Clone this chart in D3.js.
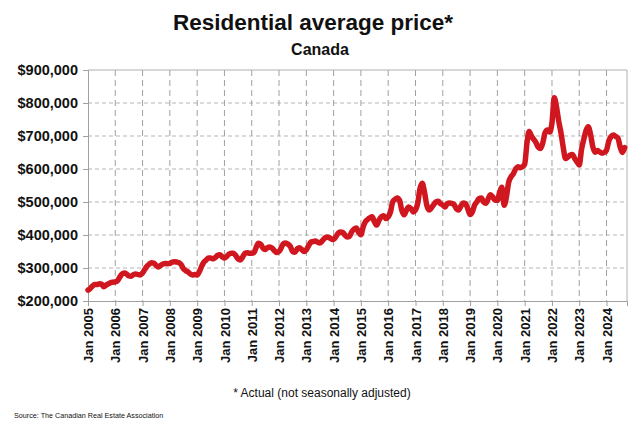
<!DOCTYPE html>
<html><head><meta charset="utf-8">
<script src="https://cdn.jsdelivr.net/npm/d3@7"></script>
<style>
html,body{margin:0;padding:0;background:#fff;}
svg{display:block;}
text{font-family:"Liberation Sans",Arial,sans-serif;fill:#111;}
</style></head>
<body><svg id="chart" width="640" height="432"></svg>
<script>
// Monthly average price (thousands of $), Jan 2005 .. Sep 2024
const startYear = 2005;
const prices2005 = [233,238,245,250,250,252,251,243,248,252,256,257];
const prices2006 = [258,262,272,282,285,282,276,275,280,282,280,279];
const prices2007 = [285,296,305,312,316,315,308,303,308,312,314,313];
const prices2008 = [314,318,319,318,316,310,298,292,288,282,279,280];
const prices2009 = [279,290,305,318,324,330,330,328,332,338,340,334];
const prices2010 = [330,335,342,345,345,338,328,324,333,344,346,345];
const prices2011 = [345,347,362,375,372,360,356,362,364,360,352,347];
const prices2012 = [350,362,374,376,372,365,350,348,358,361,356,350];
const prices2013 = [355,368,378,380,382,378,376,382,390,394,392,388];
const prices2014 = [386,395,405,409,408,400,394,396,410,418,421,408];
const prices2015 = [401,425,440,447,452,455,440,430,445,455,458,450];
const prices2016 = [455,470,500,508,512,505,475,461,475,485,480,470];
const prices2017 = [476,498,540,557,530,490,476,482,492,500,502,495];
const prices2018 = [491,485,495,497,496,492,480,476,488,497,495,480];
const prices2019 = [462,470,490,500,510,512,500,496,510,522,515,505];
const prices2020 = [505,530,545,490,515,560,576,585,600,607,604,607];
const prices2021 = [615,680,714,700,690,680,666,662,680,710,718,712];
const prices2022 = [740,816,790,745,710,665,632,636,642,644,632,622];
const prices2023 = [612,660,688,716,728,705,668,651,656,652,648,650];
const prices2024 = [657,685,698,703,699,694,667,650,665];
const yTicks = [200000,300000,400000,500000,600000,700000,800000,900000];
const xTickYears = d3.range(2005, 2025);

const allYears = [prices2005,prices2006,prices2007,prices2008,prices2009,prices2010,prices2011,prices2012,prices2013,prices2014,prices2015,prices2016,prices2017,prices2018,prices2019,prices2020,prices2021,prices2022,prices2023,prices2024];
const data = [];
allYears.forEach((arr, yi) => arr.forEach((v, m) => data.push({date: new Date(startYear + yi, m, 1), value: v * 1000})));

const svg = d3.select("#chart");
const L = 88, R = 627, T = 70, B = 301;
const x = d3.scaleTime().domain([new Date(2005,0,1), new Date(2024,9,1)]).range([L, R]);
const y = d3.scaleLinear().domain([200000, 900000]).range([B, T]);

// Titles
svg.append("text").attr("x", 313).attr("y", 30).attr("text-anchor","middle")
  .style("font-size","22.5px").style("font-weight","bold").text("Residential average price*");
svg.append("text").attr("x", 320).attr("y", 55).attr("text-anchor","middle")
  .style("font-size","16px").style("font-weight","bold").text("Canada");

// Grid
const grid = svg.append("g");
grid.selectAll("line.h").data(yTicks.filter(v => v > 200000 && v < 900000)).join("line")
  .attr("x1", L).attr("x2", R).attr("y1", d => y(d)).attr("y2", d => y(d))
  .attr("stroke", "#b5b5b5").attr("stroke-width", 1).attr("stroke-dasharray", "4,3");
grid.selectAll("line.v").data(xTickYears.slice(1)).join("line")
  .attr("x1", d => x(new Date(d,0,1))).attr("x2", d => x(new Date(d,0,1)))
  .attr("y1", T).attr("y2", B)
  .attr("stroke", "#a0a0a0").attr("stroke-width", 1).attr("stroke-dasharray", "6,4");

// Border (top/right)
svg.append("line").attr("x1", L).attr("x2", R).attr("y1", T).attr("y2", T).attr("stroke","#b0b0b0");
svg.append("line").attr("x1", R).attr("x2", R).attr("y1", T).attr("y2", B).attr("stroke","#b0b0b0");

// Y axis
const yAxis = d3.axisLeft(y).tickValues(yTicks).tickSize(5).tickPadding(5)
  .tickFormat(d => "$" + d3.format(",")(d));
const gy = svg.append("g").attr("transform", `translate(${L},0)`).call(yAxis);
gy.select(".domain").attr("stroke", "#a0a0a0");
gy.selectAll(".tick line").attr("stroke", "#a0a0a0");
gy.selectAll(".tick text").style("font-size","14.5px").style("font-weight","bold")
  .style("font-family","Liberation Sans, Arial, sans-serif").attr("fill","#111");

// X axis
const xAxis = d3.axisBottom(x).tickValues(xTickYears.map(yr => new Date(yr,0,1))).tickSize(5)
  .tickFormat(d => "Jan " + d.getFullYear());
const gx = svg.append("g").attr("transform", `translate(0,${B})`).call(xAxis);
gx.select(".domain").attr("stroke", "#a0a0a0");
gx.selectAll(".tick line").attr("stroke", "#a0a0a0");
gx.selectAll(".tick text").style("font-size","13px").style("font-weight","bold")
  .style("font-family","Liberation Sans, Arial, sans-serif").attr("fill","#111")
  .attr("text-anchor","end").attr("transform","rotate(-90)")
  .attr("x", -7).attr("y", 0).attr("dy","0.35em");

// Line
const line = d3.line().x(d => x(d.date)).y(d => y(d.value)).curve(d3.curveMonotoneX);
svg.append("path").datum(data).attr("d", line).attr("fill","none")
  .attr("stroke","#d0171f").attr("stroke-width",5.5).attr("stroke-linejoin","round").attr("stroke-linecap","round");

// Footnote and source
svg.append("text").attr("x", 322).attr("y", 397).attr("text-anchor","middle")
  .style("font-size","12px").text("* Actual (not seasonally adjusted)");
svg.append("text").attr("x", 14).attr("y", 418)
  .style("font-size","7.2px").text("Source: The Canadian Real Estate Association");
</script></body></html>
